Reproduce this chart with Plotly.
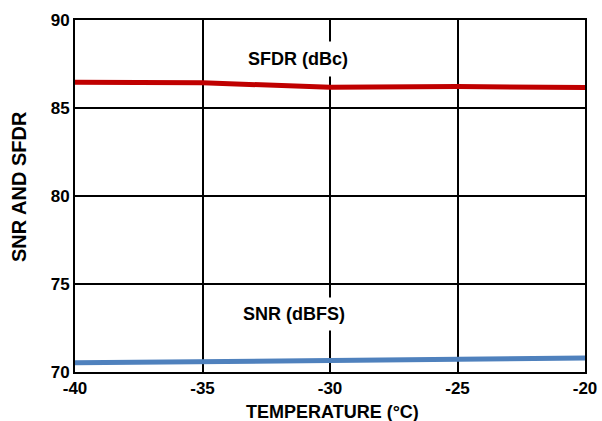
import plotly.graph_objects as go

temperature = [-40, -35, -30, -25, -20]
sfdr_dbc = [86.47, 86.43, 86.18, 86.22, 86.16]
snr_dbfs = [70.52, 70.58, 70.65, 70.71, 70.79]

x_ticks = [-40, -35, -30, -25, -20]
y_ticks = [70, 75, 80, 85, 90]

font_family = "Liberation Sans, Arial, sans-serif"

fig = go.Figure()
fig.add_trace(go.Scatter(x=temperature, y=sfdr_dbc, mode="lines",
                         line=dict(color="#C00000", width=5), cliponaxis=False))
fig.add_trace(go.Scatter(x=temperature, y=snr_dbfs, mode="lines",
                         line=dict(color="#4F81BD", width=5), cliponaxis=False))

fig.add_annotation(x=-31.25, y=87.8, text="<b>SFDR (dBc)</b>", showarrow=False,
                   bgcolor="white", borderpad=7,
                   font=dict(family=font_family, size=18, color="black"))
fig.add_annotation(x=-31.4, y=73.27, text="<b>SNR (dBFS)</b>", showarrow=False,
                   bgcolor="white", borderpad=6,
                   font=dict(family=font_family, size=18, color="black"))

# axis titles
fig.add_annotation(xref="paper", yref="paper", x=0.505, y=0, yanchor="middle",
                   yshift=-40, text="<b>TEMPERATURE (°C)</b>", showarrow=False,
                   font=dict(family=font_family, size=18, color="black"))
fig.add_annotation(xref="paper", yref="paper", x=0, y=0.5256, xanchor="center",
                   yanchor="middle", xshift=-56, textangle=-90,
                   text="<b>SNR AND SFDR</b>", showarrow=False,
                   font=dict(family=font_family, size=20, color="black"))

axis_common = dict(showline=True, linecolor="black", linewidth=2, mirror=True,
                   showgrid=True, gridcolor="black", gridwidth=2,
                   zeroline=False, ticks="", automargin=False,
                   tickfont=dict(family=font_family, size=17, color="black"))

fig.update_xaxes(range=[-40, -20], tickvals=x_ticks,
                 ticktext=[f"<b>{v}</b>" for v in x_ticks], **axis_common)
fig.update_yaxes(range=[70, 90], tickvals=y_ticks,
                 ticktext=[f"<b>{v}</b>" for v in y_ticks], **axis_common)

fig.update_layout(width=602, height=421, showlegend=False,
                  plot_bgcolor="white", paper_bgcolor="white",
                  margin=dict(l=75, r=17, t=20, b=48.5))

fig.write_html("out.html",
               config={"displayModeBar": False},
               post_script="document.body.style.margin='0';"
                           "document.body.style.overflow='hidden';")
